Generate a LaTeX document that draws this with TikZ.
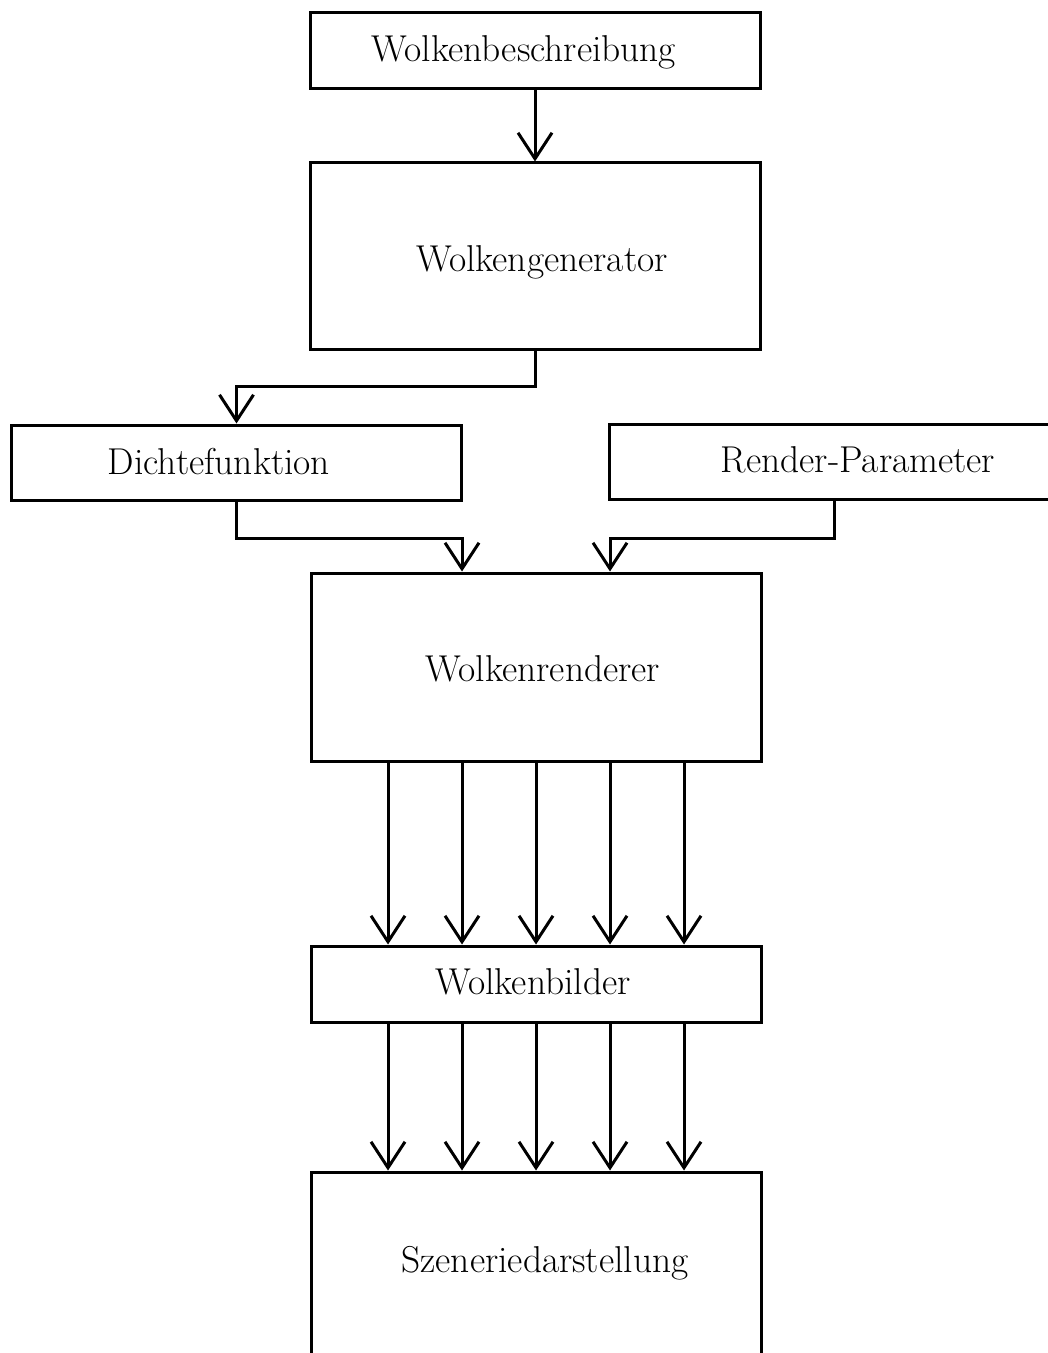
\documentclass[tikz,border=0pt]{standalone}
\usetikzlibrary{arrows.meta}
\begin{document}
\begin{tikzpicture}[x=0.5pt,y=-0.5pt,
  box/.style={draw=black,line width=1.5pt,minimum width=225pt,inner sep=0pt,fill=white},
  lbl/.style={font=\fontsize{18.7}{22}\selectfont,inner sep=0pt},
  arr/.style={line width=1.5pt,-{Straight Barb[length=13pt,width=17pt,line width=1.5pt]}}]
\path[use as bounding box] (0,0) rectangle (1048,1353);
\clip (0,0) rectangle (1048,1353);
% boxes
\node[box,minimum height=38pt] (desc) at (535,51) {};
\node[box,minimum height=93.5pt] (gen) at (535,256.5) {};
\node[box,minimum height=37.5pt] (dicht) at (236.5,462.5) {};
\node[box,minimum height=37.5pt] (rparam) at (834,462) {};
\node[box,minimum height=94pt] (ren) at (536,667) {};
\node[box,minimum height=38pt] (bild) at (536,984) {};
\node[box,minimum height=94pt] (szen) at (536,1266) {};
% labels
\node[lbl] (descT) at (524,52) {Wolkenbeschreibung};
\node[lbl] (genT) at (542,262) {Wolkengenerator};
\node[lbl] (dichtT) at (219,462) {Dichtefunktion};
\node[lbl] (rparamT) at (858,460) {Render-Parameter};
\node[lbl] (renT) at (543,669) {Wolkenrenderer};
\node[lbl] (bildT) at (533,982) {Wolkenbilder};
\node[lbl] (szenT) at (545,1263) {Szeneriedarstellung};
% connectors
\draw[arr] (desc.south) -- (gen.north);
\draw[arr] (gen.south) -- ++(0,35) -| (dicht.north);
\draw[arr] (dicht.south) -- ++(0,37) -| ([xshift=-37pt]ren.north);
\draw[arr] (rparam.south) -- ++(0,37) -| ([xshift=37pt]ren.north);
\foreach \i in {-2,...,2}{
  \draw[arr] ([xshift=\i*37pt]ren.south) -- ([xshift=\i*37pt]bild.north);
  \draw[arr] ([xshift=\i*37pt]bild.south) -- ([xshift=\i*37pt]szen.north);
}
\end{tikzpicture}
\end{document}
